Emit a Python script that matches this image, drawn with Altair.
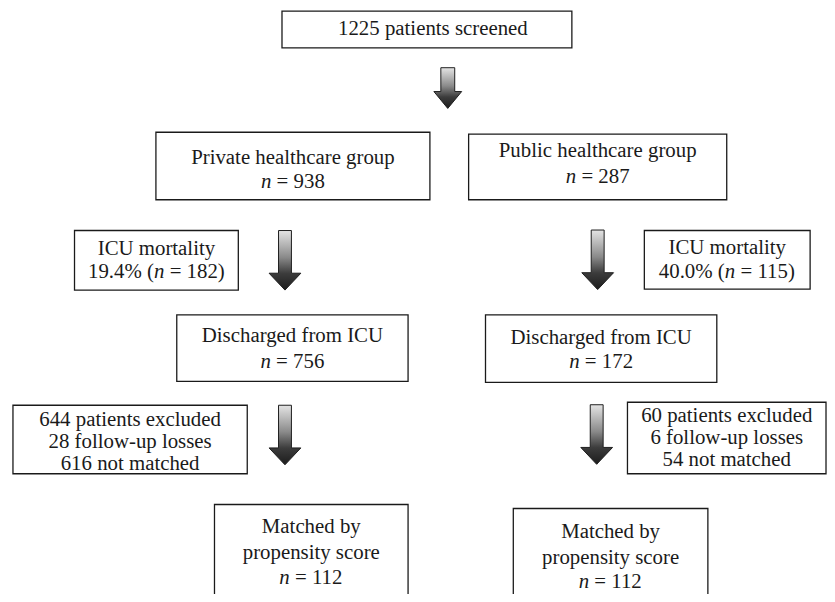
import altair as alt
import pandas as pd

# ---------------- content ----------------
box_lines = [
    ["1225 patients screened"],
    ["Private healthcare group", "*n* = 938"],
    ["Public healthcare group", "*n* = 287"],
    ["ICU mortality", "19.4% (*n* = 182)"],
    ["ICU mortality", "40.0% (*n* = 115)"],
    ["Discharged from ICU", "*n* = 756"],
    ["Discharged from ICU", "*n* = 172"],
    ["644 patients excluded", "28 follow-up losses", "616 not matched"],
    ["60 patients excluded", "6 follow-up losses", "54 not matched"],
    ["Matched by", "propensity score", "*n* = 112"],
    ["Matched by", "propensity score", "*n* = 112"],
]

# ---------------- layout (pixel positions of the flow diagram) ----------------
box_x0 = [284, 157, 472, 75, 649, 178, 489, 13, 632, 216, 517]
box_x1 = [576, 433, 732, 240, 816, 411, 722, 249, 832, 411, 713]
box_y0 = [9, 131, 133, 230, 230, 315, 315, 406, 403, 506, 510]
box_y1 = [46, 199, 199, 290, 289, 382, 383, 475, 475, 640, 640]
text_cx = [436, 295, 602, 157.5, 732.5, 294.5, 605.5, 131, 732, 313.5, 615]
text_base = [[33.5], [162.5, 187], [156, 182.5], [254.3, 278.3], [254, 278],
             [342.5, 368], [344, 368.5], [427, 449, 471], [423, 445, 467],
             [535, 560.5, 586], [540, 566, 590]]

arrow_x = [451, 287, 602, 287, 601]
arrow_y = [86.5, 260, 259.5, 436, 435.5]
arrow_kind = ["short", "long", "long", "long", "long"]

FS = 21
FONT = "Liberation Serif, Times New Roman, Tinos, serif"
# Times-compatible advance widths (per 1000 em) for the characters in mixed-style lines
ADV = {**{d: 500 for d in "0123456789"}, " ": 250, "=": 564, "(": 333, ")": 333,
       "%": 833, ".": 250, "n": 500}


def wid(s):
    return sum(ADV.get(c, 500) for c in s) * FS / 1000.0


rows = []
for cx, lines, bases in zip(text_cx, box_lines, text_base):
    for line, by in zip(lines, bases):
        if "*" not in line:
            rows.append(dict(x=cx, y=by, text=line, kind="center"))
            continue
        parts = line.split("*")
        total = sum(wid(p) for p in parts)
        xpos = cx - total / 2.0
        for i, p in enumerate(parts):
            if p:
                lead = len(p) - len(p.lstrip(" "))
                rows.append(dict(x=xpos + wid(" " * lead), y=by, text=p.strip(),
                                 kind="italic" if i % 2 == 1 else "left"))
            xpos += wid(p)
text_df = pd.DataFrame(rows)

box_df = pd.DataFrame(dict(x0=box_x0, x1=box_x1, y0=box_y0, y1=box_y1))
arrow_df = pd.DataFrame(dict(x=arrow_x, y=arrow_y, kind=arrow_kind))

W, H = 825, 586
xs = alt.Scale(domain=[8, 8 + W], nice=False, zero=False)
ys = alt.Scale(domain=[8 + H, 8], nice=False, zero=False)

boxes = alt.Chart(box_df).mark_rect(fill="white", stroke="#1a1a1a", strokeWidth=1.3).encode(
    x=alt.X("x0:Q", scale=xs, axis=None), x2="x1:Q",
    y=alt.Y("y0:Q", scale=ys, axis=None), y2="y1:Q",
)

path_short = "M -7 -20.5 L 7 -20.5 L 7 3.5 L 14 3.5 L 0 20.5 L -14 3.5 L -7 3.5 Z"
path_long = "M -6.5 -30 L 6.5 -30 L 6.5 13 L 16 13 L 0 30 L -16 13 L -6.5 13 Z"

grad = {
    "gradient": "linear", "x1": 0, "y1": 0, "x2": 0, "y2": 1,
    "stops": [
        {"offset": 0, "color": "#e4e4e4"},
        {"offset": 0.45, "color": "#8a8a8a"},
        {"offset": 0.72, "color": "#3c3c3c"},
        {"offset": 1, "color": "#1c1c1c"},
    ],
}

arrows = alt.Chart(arrow_df).mark_point(
    size=4, filled=True, fill=grad, stroke="#1e1e1e", strokeWidth=1,
    opacity=1, fillOpacity=1, strokeOpacity=1,
).encode(
    x=alt.X("x:Q", scale=xs, axis=None),
    y=alt.Y("y:Q", scale=ys, axis=None),
    shape=alt.Shape("kind:N", scale=alt.Scale(domain=["short", "long"],
                                               range=[path_short, path_long]), legend=None),
)


def text_layer(kind, align, style):
    return alt.Chart(text_df).transform_filter(alt.datum.kind == kind).mark_text(
        align=align, baseline="alphabetic", font=FONT, fontSize=FS,
        fontStyle=style, color="#1a1a1a",
    ).encode(
        x=alt.X("x:Q", scale=xs, axis=None),
        y=alt.Y("y:Q", scale=ys, axis=None),
        text="text:N",
    )


chart = alt.layer(
    boxes, arrows,
    text_layer("center", "center", "normal"),
    text_layer("left", "left", "normal"),
    text_layer("italic", "left", "italic"),
).properties(width=W, height=H, padding=0, autosize="none", background="white"
).configure_view(stroke=None)

chart.save("out.html", embed_options={"renderer": "svg", "actions": False})
